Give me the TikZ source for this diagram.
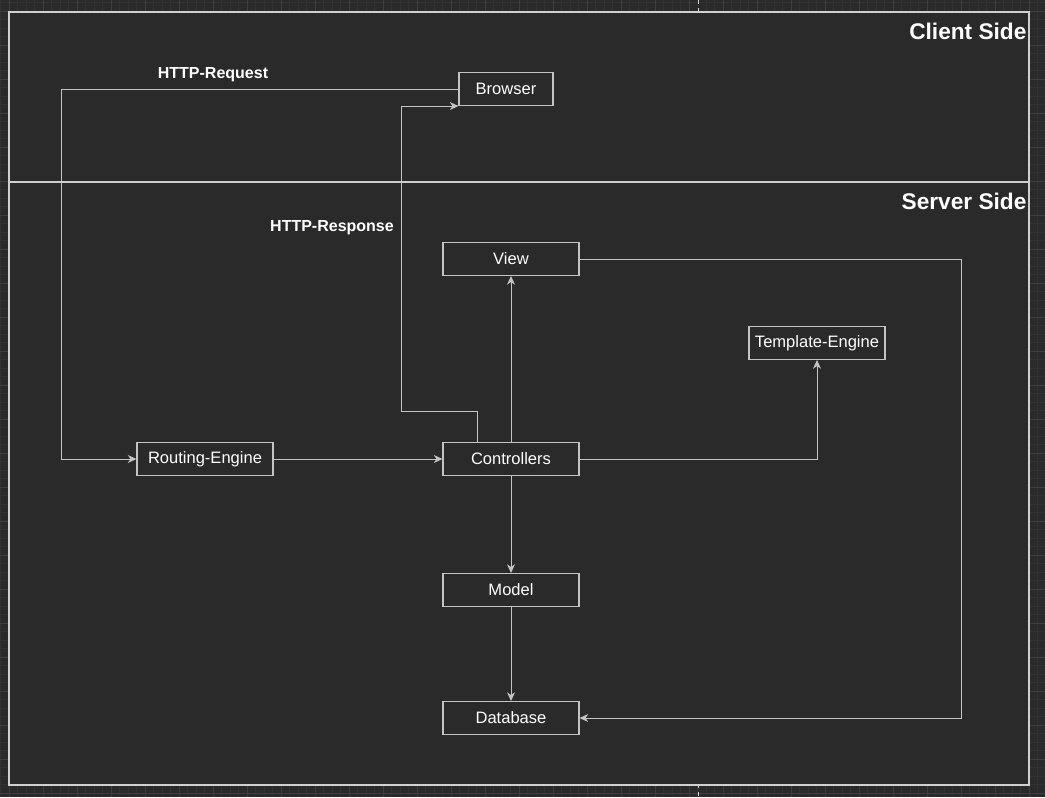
\documentclass[tikz,border=0pt]{standalone}
\usepackage{fontspec}
\setmainfont{Liberation Sans}
\usepackage{xcolor}
\usepackage{tikz}
\usetikzlibrary{calc,positioning,arrows.meta}
\definecolor{canvas}{HTML}{2A2A2A}
\definecolor{minorline}{HTML}{323232}
\definecolor{majorline}{HTML}{3E3E3E}
\definecolor{wire}{HTML}{C4C4C4}
\definecolor{frameline}{HTML}{D0D0D0}
\tikzset{
  box/.style={draw=wire,line width=0.8pt,text=white,font=\fontsize{12.4}{14}\selectfont,
              minimum width=102pt,minimum height=24.75pt,inner sep=0pt},
  conn/.style={draw=wire,line width=0.75pt,-{Stealth[length=6.5pt,width=6pt,inset=2pt]}},
  plain/.style={draw=wire,line width=0.75pt},
  zone/.style={text=white,font=\bfseries\fontsize{17}{20}\selectfont,anchor=east,inner sep=1pt},
  flow/.style={text=white,font=\bfseries\fontsize{12}{14}\selectfont},
}

\begin{document}
\begin{tikzpicture}[x=0.75pt,y=-0.75pt]
  \useasboundingbox (0,0) rectangle (1045,797);
  \fill[canvas] (0,0) rectangle (1045,797);
  % grid round the page
  \foreach \i in {-1,...,124}
    \draw[minorline,line width=0.6pt] (9+8.5*\i,0) -- (9+8.5*\i,797);
  \foreach \i in {-2,...,94}
    \draw[minorline,line width=0.6pt] (0,11+8.5*\i) -- (1045,11+8.5*\i);
  \foreach \i in {0,...,31}
    \draw[majorline,line width=0.75pt] (9+34*\i,0) -- (9+34*\i,797);
  \foreach \i in {-1,...,23}
    \draw[majorline,line width=0.75pt] (0,11+34*\i) -- (1045,11+34*\i);
  \draw[frameline,dashed,line width=0.75pt] (698,0) -- (698,797);
  % the two sides
  \fill[canvas] (9,12) rectangle (1029,785);
  \draw[frameline,line width=1pt] (9,12) rectangle (1029,785);
  \draw[frameline,line width=1pt] (9,182) -- (1029,182);
  \node[zone] (client) at (1028,31) {Client Side};
  \node[zone] (server) at (1028,201) {Server Side};

  \node[box,minimum width=70.5pt] (browser) at (506,89) {Browser};
  \node[box] (routing) at (205,459) {Routing-Engine};
  \node[box] (controllers) at (511,459) {Controllers};
  \node[box] (view) at (511,259) {View};
  \node[box] (template) at (817,343) {Template-Engine};
  \node[box] (model) at (511,590) {Model};
  \node[box] (database) at (511,718) {Database};

  \node[flow] (req) at (213,75) {HTTP-Request};
  \node[flow] (resp) at (332,228) {HTTP-Response};

  \coordinate (reqbend) at (61,89);
  \coordinate (respbend) at (401,411);
  \coordinate (viewbend) at (961,259);

  \draw[conn] (browser.west) -- (reqbend) |- (routing.west);
  \draw[conn] ($(controllers.north)+(-34,0)$) |- (respbend) |- (browser.south west);
  \draw[conn] (routing) -- (controllers);
  \draw[conn] (controllers) -- (view);
  \draw[conn] (controllers.east) -| (template.south);
  \draw[conn] (controllers) -- (model);
  \draw[conn] (model) -- (database);
  \draw[conn] (view.east) -- (viewbend) |- (database.east);
\end{tikzpicture}
\end{document}
